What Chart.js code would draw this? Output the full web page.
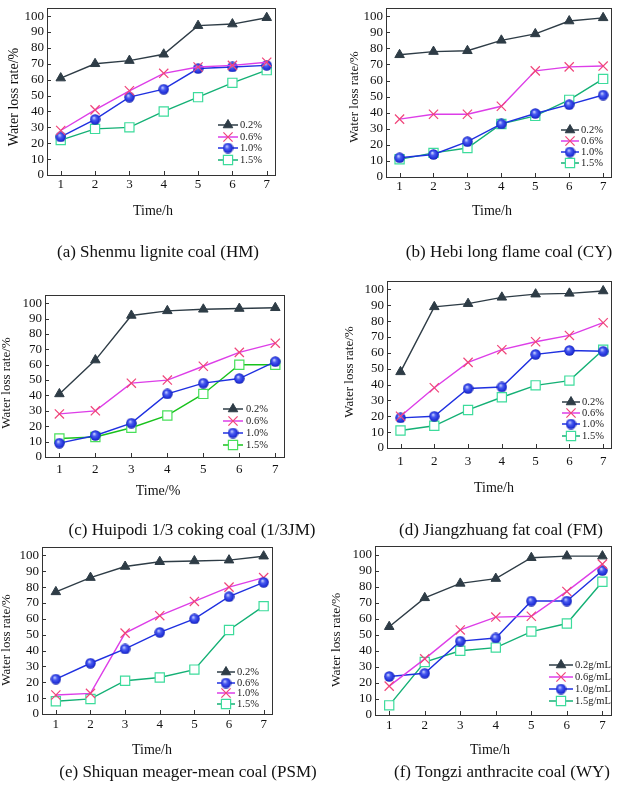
<!DOCTYPE html>
<html><head><meta charset="utf-8">
<script src="https://cdn.jsdelivr.net/npm/chart.js@4.4.0/dist/chart.umd.min.js"></script>
<style>
html,body{margin:0;padding:0;background:#fff;}
#wrap{position:relative;width:620px;height:790px;overflow:hidden;background:#fff;}
#wrap canvas{position:absolute;left:0;top:0;}
</style></head>
<body><div id="wrap">
<canvas id="c0" width="620" height="790"></canvas>
<canvas id="c1" width="620" height="790"></canvas>
<canvas id="c2" width="620" height="790"></canvas>
<canvas id="c3" width="620" height="790"></canvas>
<canvas id="c4" width="620" height="790"></canvas>
<canvas id="c5" width="620" height="790"></canvas>
</div>
<script>
// ---------- data ----------
const timeTicks = [1, 2, 3, 4, 5, 6, 7];
const rateTicks = [0, 10, 20, 30, 40, 50, 60, 70, 80, 90, 100];
const pctLabels = ['0.2%', '0.6%', '1.0%', '1.5%'];
const gmlLabels = ['0.2g/mL', '0.6g/mL', '1.0g/mL', '1.5g/mL'];
const yTitle = 'Water loss rate/%';
const xTitles = ['Time/h', 'Time/h', 'Time/%', 'Time/h', 'Time/h', 'Time/h'];
const captions = ['(a) Shenmu lignite coal (HM)', '(b) Hebi long flame coal (CY)',
  '(c) Huipodi 1/3 coking coal (1/3JM)', '(d) Jiangzhuang fat coal (FM)',
  '(e) Shiquan meager-mean coal (PSM)', '(f) Tongzi anthracite coal (WY)'];

const hm02 = [61, 70, 72, 76, 94, 95, 99];
const hm06 = [28, 41, 53, 64, 68, 69, 71];
const hm10 = [24, 35, 49, 54, 67, 68, 69];
const hm15 = [22, 29, 30, 40, 49, 58, 66];

const cy02 = [76, 78, 78.5, 85, 89, 97, 99];
const cy06 = [36, 39, 39, 44, 66, 68.5, 69];
const cy10 = [12, 14, 22, 33, 39.5, 45, 51];
const cy15 = [11, 15, 18, 33, 38, 48, 61];

const jm02 = [41, 63, 92, 95, 96, 96.5, 97];
const jm06 = [28, 30, 48, 50, 59, 68, 74];
const jm10 = [9, 14, 22, 41, 48, 51, 62];
const jm15 = [12, 13, 19, 27, 41, 60, 60];

const fm02 = [48, 89, 91, 95, 97, 97.5, 99];
const fm06 = [20, 38, 54, 62, 67, 71, 79];
const fm10 = [19, 20, 37.5, 38.5, 59, 61.5, 61];
const fm15 = [11, 14, 24, 32, 39.5, 42.5, 62];

const psm02 = [77, 86, 93, 96, 96.5, 97, 99.5];
const psm06 = [22, 32, 41, 51.5, 60, 74, 83];
const psm10 = [12, 13, 51, 62, 71, 80, 86];
const psm15 = [8, 9.5, 21, 23, 28, 53, 68];

const wy02 = [55, 73, 82, 85, 98, 99, 99];
const wy06 = [18, 35, 53, 61, 61.5, 77, 94];
const wy10 = [24, 26, 46, 48, 71, 71, 90];
const wy15 = [6, 33, 40, 42, 52, 57, 83];

// ---------- styles ----------
const FONT = '"Liberation Serif", "Times New Roman", serif';

function makeBall() {
  const c = document.createElement('canvas');
  c.width = 11; c.height = 11;
  const g = c.getContext('2d');
  const grd = g.createRadialGradient(4.2, 3.8, 0.3, 5.5, 5.5, 5.5);
  grd.addColorStop(0, '#c8d0ff');
  grd.addColorStop(0.35, '#4a5cf0');
  grd.addColorStop(0.8, '#1e2ed8');
  grd.addColorStop(1, '#141fa0');
  g.fillStyle = grd;
  g.beginPath(); g.arc(5.5, 5.5, 5.2, 0, Math.PI * 2); g.fill();
  return c;
}
const ballImg = makeBall();

const ST = {
  tri:  {line: '#2e3c46', shape: 'triangle', fill: '#2e3c46', stroke: '#2e3c46', r: 5.5, bw: 1},
  x:    {line: '#dd3ee8', shape: 'crossRot', fill: '#f0457a', stroke: '#f0457a', r: 6.5, bw: 1.2},
  ball: {line: '#1f30e0', shape: ballImg,    fill: '#2a3ce6', stroke: '#1626b8', r: 5, bw: 1},
  sq:   {line: '#14b075', shape: 'rect',     fill: '#ffffff', stroke: '#3ddc9c', r: 6.5, bw: 1.2},
  sqc:  {line: '#18c21c', shape: 'rect',     fill: '#ffffff', stroke: '#48e05a', r: 6.5, bw: 1.2}
};

const YW = 30, XH = 30;
const panels = [
  {series: [hm02, hm06, hm10, hm15], labels: pctLabels, styles: [ST.tri, ST.x, ST.ball, ST.sq],
   L: 47, R: 276, T: 1, B: 175, xpad: 2, xt: [153, 211], yt: [14, 97, 14], cap: [158, 253],
   leg: {x0: 218, x1: 238, tx: 240, ys: [125, 137, 148, 160]}},
  {series: [cy02, cy06, cy10, cy15], labels: pctLabels, styles: [ST.tri, ST.x, ST.ball, ST.sq],
   L: 386, R: 614, T: 2, B: 177, xpad: 2, xt: [492, 211], yt: [355, 97, 13], cap: [509, 253],
   leg: {x0: 561, x1: 579, tx: 581, ys: [130, 141, 152, 163]}},
  {series: [jm02, jm06, jm10, jm15], labels: pctLabels, styles: [ST.tri, ST.x, ST.ball, ST.sqc],
   L: 45, R: 285, T: 295, B: 457, xpad: 5, xt: [158, 491], yt: [7, 383, 13], cap: [192, 531],
   leg: {x0: 223, x1: 243, tx: 246, ys: [409, 421, 433, 445]}},
  {series: [fm02, fm06, fm10, fm15], labels: pctLabels, styles: [ST.tri, ST.x, ST.ball, ST.sq],
   L: 387, R: 617, T: 281, B: 448, xpad: 6, xt: [494, 488], yt: [350, 372, 13], cap: [501, 531],
   leg: {x0: 562, x1: 580, tx: 582, ys: [402, 413, 424, 436]}},
  {series: [psm02, psm06, psm10, psm15], labels: pctLabels, styles: [ST.tri, ST.ball, ST.x, ST.sq],
   L: 42, R: 273, T: 547, B: 714, xpad: 3, xt: [152, 750], yt: [7, 640, 13], cap: [188, 773],
   leg: {x0: 217, x1: 235, tx: 237, ys: [672, 683, 693, 704]}},
  {series: [wy02, wy06, wy10, wy15], labels: gmlLabels, styles: [ST.tri, ST.x, ST.ball, ST.sq],
   L: 375, R: 612, T: 546, B: 715, xpad: 3, xt: [490, 750], yt: [336, 640, 13.4], cap: [502, 773],
   leg: {x0: 549, x1: 573, tx: 575, ys: [665, 677, 689, 701]}}
];

function drawMarker(ctx, st, x, y) {
  const r = st.r;
  ctx.save();
  ctx.lineWidth = st.bw; ctx.strokeStyle = st.stroke; ctx.fillStyle = st.fill;
  ctx.beginPath();
  if (typeof st.shape !== 'string') {
    ctx.drawImage(st.shape, x - st.shape.width / 2, y - st.shape.height / 2);
  } else if (st.shape === 'triangle') {
    ctx.moveTo(x, y - r);
    ctx.lineTo(x + r * 0.866, y + r * 0.5);
    ctx.lineTo(x - r * 0.866, y + r * 0.5);
    ctx.closePath(); ctx.fill(); ctx.stroke();
  } else if (st.shape === 'crossRot') {
    const d = r * Math.SQRT1_2;
    ctx.moveTo(x - d, y - d); ctx.lineTo(x + d, y + d);
    ctx.moveTo(x + d, y - d); ctx.lineTo(x - d, y + d);
    ctx.stroke();
  } else {
    const d = r * Math.SQRT1_2;
    ctx.rect(x - d, y - d, 2 * d, 2 * d); ctx.fill(); ctx.stroke();
  }
  ctx.restore();
}

function makeDeco(p, idx) {
  return {
    id: 'deco' + idx,
    afterDraw(chart) {
      const ctx = chart.ctx, a = chart.chartArea;
      const xs = chart.scales.x, ys = chart.scales.y;
      ctx.save();
      // frame
      ctx.strokeStyle = '#333'; ctx.lineWidth = 1;
      ctx.strokeRect(Math.round(a.left) + 0.5, Math.round(a.top) + 0.5,
        Math.round(a.right - a.left) - 1, Math.round(a.bottom - a.top));
      // inward tick marks
      ctx.beginPath();
      timeTicks.forEach(v => {
        const px = Math.round(xs.getPixelForValue(v)) + 0.5;
        ctx.moveTo(px, a.bottom); ctx.lineTo(px, a.bottom - 4);
      });
      rateTicks.forEach(v => {
        const py = Math.round(ys.getPixelForValue(v)) + 0.5;
        ctx.moveTo(a.left, py); ctx.lineTo(a.left + 4, py);
      });
      ctx.stroke();
      // titles
      ctx.fillStyle = '#111'; ctx.textAlign = 'center'; ctx.textBaseline = 'middle';
      ctx.font = '14px ' + FONT;
      ctx.fillText(xTitles[idx], p.xt[0], p.xt[1]);
      ctx.save();
      ctx.translate(p.yt[0], p.yt[1]); ctx.rotate(-Math.PI / 2);
      ctx.font = p.yt[2] + 'px ' + FONT;
      ctx.fillText(yTitle, 0, 0);
      ctx.restore();
      ctx.font = '17px ' + FONT;
      ctx.fillText(captions[idx], p.cap[0], p.cap[1]);
      // legend
      const lg = p.leg;
      ctx.textAlign = 'left';
      ctx.font = '10.5px ' + FONT;
      p.styles.forEach((st, i) => {
        const y = lg.ys[i];
        ctx.strokeStyle = st.line; ctx.lineWidth = 1.5;
        ctx.beginPath(); ctx.moveTo(lg.x0, y); ctx.lineTo(lg.x1, y); ctx.stroke();
        drawMarker(ctx, st, (lg.x0 + lg.x1) / 2, y);
        ctx.fillStyle = '#222';
        ctx.fillText(p.labels[i], lg.tx, y + 0.5);
      });
      ctx.restore();
    }
  };
}

panels.forEach((p, idx) => {
  const datasets = p.series.map((d, i) => {
    const st = p.styles[i];
    return {
      label: p.labels[i], data: d,
      borderColor: st.line, borderWidth: 1.4, tension: 0, fill: false, clip: false,
      pointStyle: st.shape, pointRadius: st.r, pointBackgroundColor: st.fill,
      pointBorderColor: st.stroke, pointBorderWidth: st.bw
    };
  });
  new Chart(document.getElementById('c' + idx), {
    type: 'line',
    data: {labels: timeTicks, datasets},
    plugins: [makeDeco(p, idx)],
    options: {
      responsive: false, animation: false, devicePixelRatio: 1, events: [],
      layout: {padding: {left: p.L - YW, right: 620 - p.R, top: p.T, bottom: 790 - p.B - XH}},
      plugins: {legend: {display: false}, tooltip: {enabled: false}, title: {display: false}},
      scales: {
        x: {
          type: 'linear', min: 0.6, max: 7.27,
          afterBuildTicks: s => { s.ticks = timeTicks.map(v => ({value: v})); },
          afterFit: s => { s.height = XH; s.paddingLeft = 0; s.paddingRight = 0; },
          grid: {display: false, drawTicks: false}, border: {display: false},
          ticks: {font: {family: FONT, size: 13}, color: '#111', padding: p.xpad,
            maxRotation: 0, autoSkip: false, callback: v => String(v)}
        },
        y: {
          type: 'linear', min: 0, max: 105.3,
          afterBuildTicks: s => { s.ticks = rateTicks.map(v => ({value: v})); },
          afterFit: s => { s.width = YW; s.paddingTop = 0; s.paddingBottom = 0; },
          grid: {display: false, drawTicks: false}, border: {display: false},
          ticks: {font: {family: FONT, size: 13}, color: '#111', padding: 3,
            autoSkip: false, callback: v => String(v)}
        }
      }
    }
  });
});
</script>
</body></html>
